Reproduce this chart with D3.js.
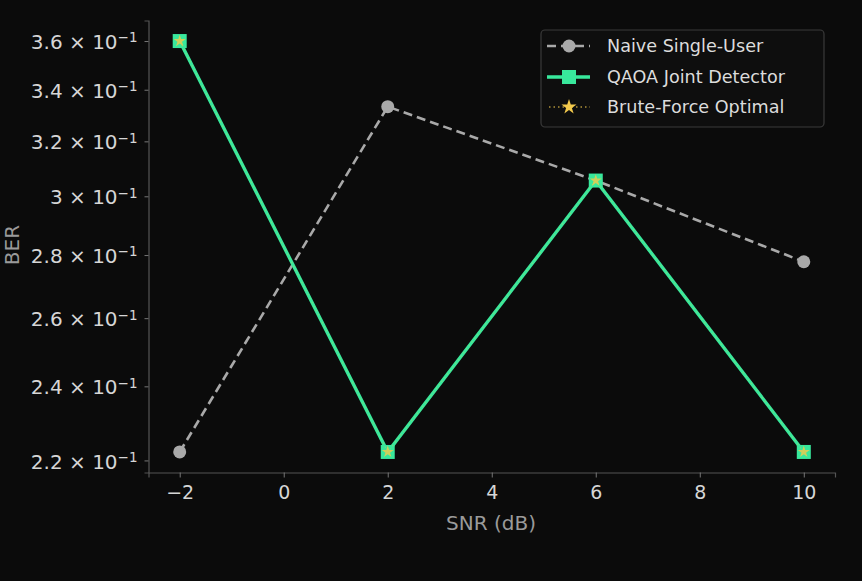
<!DOCTYPE html>
<html><head><meta charset="utf-8">
<script src="https://cdn.jsdelivr.net/npm/d3@7"></script>
<style>
html,body{margin:0;padding:0;background:#0b0b0b;}
svg{display:block;}
svg text{font-family:"DejaVu Sans",sans-serif;}
</style></head>
<body><svg id="c" width="862" height="581"></svg>
<script>
const snr = [-2, 2, 6, 10];
const naive = [0.2222, 0.3333, 0.3056, 0.2778];
const qaoa = [0.36, 0.2222, 0.3056, 0.2222];
const brute = [0.36, 0.2222, 0.3056, 0.2222];
const xTicks = [-2, 0, 2, 4, 6, 8, 10];
const yTicks = [0.22, 0.24, 0.26, 0.28, 0.30, 0.32, 0.34, 0.36];
const yTickMant = ["2.2", "2.4", "2.6", "2.8", "3", "3.2", "3.4", "3.6"];
const seriesNames = ["Naive Single-User", "QAOA Joint Detector", "Brute-Force Optimal"];

const FF = "DejaVu Sans, sans-serif";
const svg = d3.select("#c");
const L = 148.5, R = 835, T = 20.5, B = 472.5;
const x = d3.scaleLinear().domain([-2.6, 10.6]).range([L, R]);
const lo = Math.log10(0.2222), hi = Math.log10(0.36), m = (hi - lo) * 0.05;
const y = d3.scaleLog().domain([Math.pow(10, lo - m), Math.pow(10, hi + m)]).range([B, T]);

const axisCol = "#555", tickTxt = "#d6d6d6", labTxt = "#9a9a9a";

// x axis
const xa = svg.append("g").attr("transform", `translate(0,${B})`)
  .call(d3.axisBottom(x).tickValues(xTicks).tickSize(5).tickPadding(8).tickFormat(d => d < 0 ? "\u2212" + Math.abs(d) : d))
  .attr("font-family", FF);
xa.select(".domain").attr("stroke", axisCol).attr("stroke-width", 1.2);
xa.selectAll(".tick line").attr("stroke", "#777");
xa.selectAll(".tick text").attr("fill", tickTxt).attr("font-size", 19);

// y axis
const ya = svg.append("g").attr("transform", `translate(${L},0)`)
  .call(d3.axisLeft(y).tickValues(yTicks).tickSize(4).tickPadding(8).tickFormat(""))
  .attr("font-family", FF);
ya.select(".domain").attr("stroke", axisCol).attr("stroke-width", 1.2);
ya.selectAll(".tick line").attr("stroke", "#777");
ya.selectAll(".tick").each(function(d, i) {
  const t = d3.select(this).append("text").attr("x", -11).attr("dy", "0.38em")
    .attr("text-anchor", "end").attr("fill", tickTxt).attr("font-size", 20);
  t.append("tspan").text(yTickMant[i] + " \u00d7 10");
  t.append("tspan").attr("dy", "-0.5em").attr("font-size", 13.5).text("\u22121");
});

svg.append("text").attr("x", 491).attr("y", 530).attr("text-anchor", "middle")
  .attr("fill", labTxt).attr("font-size", 20).text("SNR (dB)");
svg.append("text").attr("transform", "translate(19,245) rotate(-90)").attr("text-anchor", "middle")
  .attr("fill", labTxt).attr("font-size", 20).text("BER");

const line = d3.line().x((d, i) => x(snr[i])).y(d => y(d));
const gray = "#a9a9a9", green = "#38e89c", gold = "#f2c94c";

// naive
svg.append("path").datum(naive).attr("d", line).attr("fill", "none")
  .attr("stroke", gray).attr("stroke-width", 2.6).attr("stroke-dasharray", "9,5");
svg.selectAll(".nv").data(naive).enter().append("circle")
  .attr("cx", (d, i) => x(snr[i])).attr("cy", d => y(d)).attr("r", 6.5).attr("fill", gray);

// qaoa
svg.append("path").datum(qaoa).attr("d", line).attr("fill", "none")
  .attr("stroke", green).attr("stroke-width", 3.4);
svg.selectAll(".qa").data(qaoa).enter().append("rect")
  .attr("x", (d, i) => x(snr[i]) - 7).attr("y", d => y(d) - 7).attr("width", 14).attr("height", 14)
  .attr("fill", green);

// brute
svg.append("path").datum(brute).attr("d", line).attr("fill", "none")
  .attr("stroke", gold).attr("stroke-width", 1.2).attr("stroke-dasharray", "1.5,3").attr("opacity", 0.3);
const star = d3.symbol().type(d3.symbolStar).size(45);
svg.selectAll(".bf").data(brute).enter().append("path")
  .attr("d", star).attr("transform", (d, i) => `translate(${x(snr[i])},${y(d)})`).attr("fill", gold).attr("opacity", 0.8);

// legend
const lg = svg.append("g");
lg.append("rect").attr("x", 541).attr("y", 30).attr("width", 283).attr("height", 97).attr("rx", 4)
  .attr("fill", "#0e0e0e").attr("stroke", "#3a3a3a").attr("stroke-width", 1.2);
const rows = [46, 77, 107];
lg.append("line").attr("x1", 547).attr("x2", 590).attr("y1", rows[0]).attr("y2", rows[0])
  .attr("stroke", gray).attr("stroke-width", 2.6).attr("stroke-dasharray", "9,5");
lg.append("circle").attr("cx", 569).attr("cy", rows[0]).attr("r", 6.5).attr("fill", gray);
lg.append("line").attr("x1", 547).attr("x2", 590).attr("y1", rows[1]).attr("y2", rows[1])
  .attr("stroke", green).attr("stroke-width", 3.4);
lg.append("rect").attr("x", 562).attr("y", rows[1] - 7).attr("width", 14).attr("height", 14).attr("fill", green);
lg.append("line").attr("x1", 549).attr("x2", 590).attr("y1", rows[2]).attr("y2", rows[2])
  .attr("stroke", gold).attr("stroke-width", 1.5).attr("stroke-dasharray", "1.5,3").attr("opacity", 0.7);
lg.append("path").attr("d", d3.symbol().type(d3.symbolStar).size(70)).attr("transform", `translate(569,${rows[2]})`).attr("fill", gold);
seriesNames.forEach((n, i) => {
  lg.append("text").attr("x", 607).attr("y", rows[i]).attr("dy", "0.35em")
    .attr("fill", "#dcdcdc").attr("font-size", 17.6).text(n);
});
</script></body></html>
